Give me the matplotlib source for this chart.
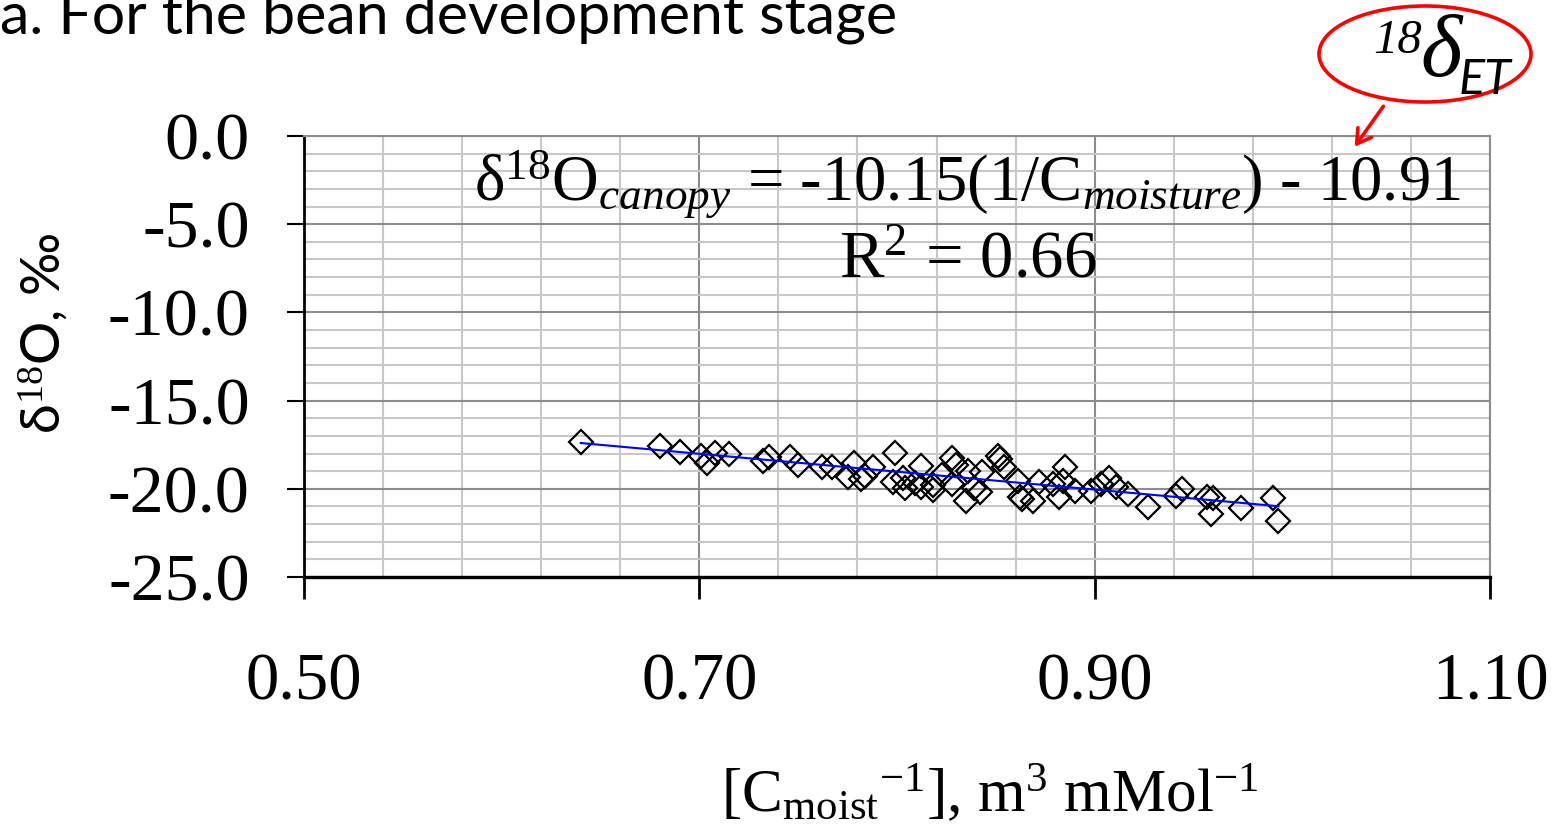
import numpy as np
import matplotlib.pyplot as plt
from matplotlib.patches import Ellipse, FancyArrowPatch
from matplotlib.ticker import FixedLocator, MultipleLocator, FormatStrFormatter

plt.rcParams["mathtext.fontset"] = "custom"
plt.rcParams["mathtext.rm"] = "Liberation Serif"
plt.rcParams["mathtext.it"] = "Liberation Serif:italic"
plt.rcParams["axes.unicode_minus"] = False

# ---------------------------------------------------------------------------
# Data: 1/C_moisture vs canopy d18O
# ---------------------------------------------------------------------------
C_INV = [0.640, 0.680, 0.690, 0.701, 0.704, 0.708, 0.715, 0.732, 0.735, 0.746,
         0.750, 0.762, 0.767, 0.775, 0.778, 0.782, 0.784, 0.788, 0.799, 0.798,
         0.803, 0.804, 0.809, 0.812, 0.812, 0.818, 0.818, 0.823, 0.828, 0.830,
         0.828, 0.835, 0.836, 0.839, 0.843, 0.842, 0.851, 0.852, 0.854, 0.861,
         0.862, 0.863, 0.869, 0.872, 0.879, 0.882, 0.885, 0.884, 0.890, 0.898,
         0.903, 0.907, 0.911, 0.917, 0.927, 0.941, 0.944, 0.957, 0.960, 0.959,
         0.974, 0.990, 0.993]
D18O = [-17.37, -17.60, -17.94, -18.13, -18.51, -17.97, -18.03, -18.45, -18.22, -18.22,
        -18.65, -18.75, -18.75, -19.32, -18.54, -19.45, -19.26, -18.75, -17.99, -19.60,
        -19.36, -19.93, -19.69, -18.69, -19.89, -20.06, -19.77, -19.20, -18.27, -18.64,
        -19.72, -20.68, -18.98, -19.93, -19.03, -20.17, -18.13, -18.31, -18.75, -19.57,
        -20.49, -20.59, -20.68, -19.64, -19.73, -20.45, -18.79, -19.55, -20.11, -20.11,
        -19.73, -19.36, -19.89, -20.28, -21.02, -20.40, -20.02, -20.49, -20.51, -21.42,
        -21.08, -20.53, -21.80]

# fitted trend line as printed on the chart
SLOPE = -10.15
INTERCEPT = -10.91
R2 = 0.66

TITLE = "a. For the bean development stage"
X_TICKS = [0.50, 0.70, 0.90, 1.10]
Y_TICKS = [0.0, -5.0, -10.0, -15.0, -20.0, -25.0]

# ---------------------------------------------------------------------------
# Figure
# ---------------------------------------------------------------------------
W, H = 1566, 836
SERIF = "Liberation Serif"
SANS = ["Lato", "DejaVu Sans"]


def fpos(x, y):
    """pixel position (from top-left) -> figure fraction"""
    return x / W, 1 - y / H


fig = plt.figure(figsize=(W / 100, H / 100), dpi=100)
ax = fig.add_axes([304 / W, 1 - 577 / H, (1490 - 304) / W, (577 - 136) / H])

ax.set_xlim(0.5, 1.1)
ax.set_ylim(-25, 0)
ax.set_xticks(X_TICKS)
ax.set_yticks(Y_TICKS)
# excel-style minor grid: 5 steps per major interval, counted from the axis min
ax.xaxis.set_minor_locator(FixedLocator(np.arange(0.5, 1.1001, 0.04)))
ax.yaxis.set_minor_locator(MultipleLocator(1.0))
ax.xaxis.set_major_formatter(FormatStrFormatter("%.2f"))
ax.yaxis.set_major_formatter(FormatStrFormatter("%.1f"))

ax.grid(which="minor", color="#c8c8c8", linewidth=1.5)
ax.grid(which="major", color="#8c8c8c", linewidth=1.5)
ax.set_axisbelow(True)

for side in ("top", "right"):
    ax.spines[side].set_color("#8c8c8c")
    ax.spines[side].set_linewidth(1.5)
ax.spines["left"].set_linewidth(2.0)
ax.spines["bottom"].set_linewidth(2.4)

ax.tick_params(axis="x", which="major", length=16, width=2, pad=38,
               labelsize=48)
ax.tick_params(axis="y", which="major", length=12, width=1.5, pad=27,
               labelsize=49)
ax.tick_params(which="minor", length=0)
for lab in ax.get_xticklabels() + ax.get_yticklabels():
    lab.set_fontfamily(SERIF)

ax.plot(C_INV, D18O, "D", mfc="none", mec="black", ms=12, mew=1.6,
        zorder=3)
x_fit = np.array([min(C_INV), max(C_INV)])
ax.plot(x_fit, SLOPE * x_fit + INTERCEPT, color="#0000ff", linewidth=1.5,
        zorder=4)

# equation + R2
fig.text(*fpos(967, 200),
         r"δ$^{18}$O$_{canopy}$ = %.2f(1/C$_{moisture}$) - %.2f"
         % (SLOPE, abs(INTERCEPT)),
         ha="center", va="baseline", fontsize=46.5, fontfamily=SERIF)
fig.text(*fpos(968, 278), r"R$^{2}$ = %.2f" % R2,
         ha="center", va="baseline", fontsize=48, fontfamily=SERIF)

# axis labels
fig.text(*fpos(990, 812),
         r"[C${}_{\mathrm{moist}}{}^{\mathrm{-1}}$], m$^{3}$ mMol$^{\mathrm{-1}}$",
         ha="center", va="baseline", fontsize=44, fontfamily=SERIF)
fig.text(*fpos(43, 333), r"δ$^{18}$O, ‰", rotation=90,
         ha="center", va="center", fontsize=39, fontfamily=SANS)

# title (cut at the top edge as in the source)
fig.text(*fpos(0, 33), TITLE, ha="left", va="baseline", fontsize=42.5,
         fontfamily=SANS)

# red ellipse callout
cx, cy = fpos(1425, 54)
fig.patches.append(Ellipse((cx, cy), 212 / W, 96 / H, transform=fig.transFigure,
                           facecolor="none", edgecolor="#ff0000", linewidth=2.6))
fig.text(*fpos(1398, 53), "18", ha="center", va="baseline", fontsize=35,
         style="italic", fontfamily=SERIF)
fig.text(*fpos(1441, 76), "δ", ha="center", va="baseline", fontsize=64,
         style="italic", fontfamily=SERIF)
fig.text(*fpos(1485, 94), "ET", ha="center", va="baseline", fontsize=35,
         style="italic", fontfamily=SANS)
fig.patches.append(FancyArrowPatch(fpos(1385, 104), fpos(1353, 149),
                                   transform=fig.transFigure,
                                   arrowstyle="->,head_length=10,head_width=6",
                                   color="#ff0000", linewidth=2.6))

fig.savefig("out.png", dpi=100)
